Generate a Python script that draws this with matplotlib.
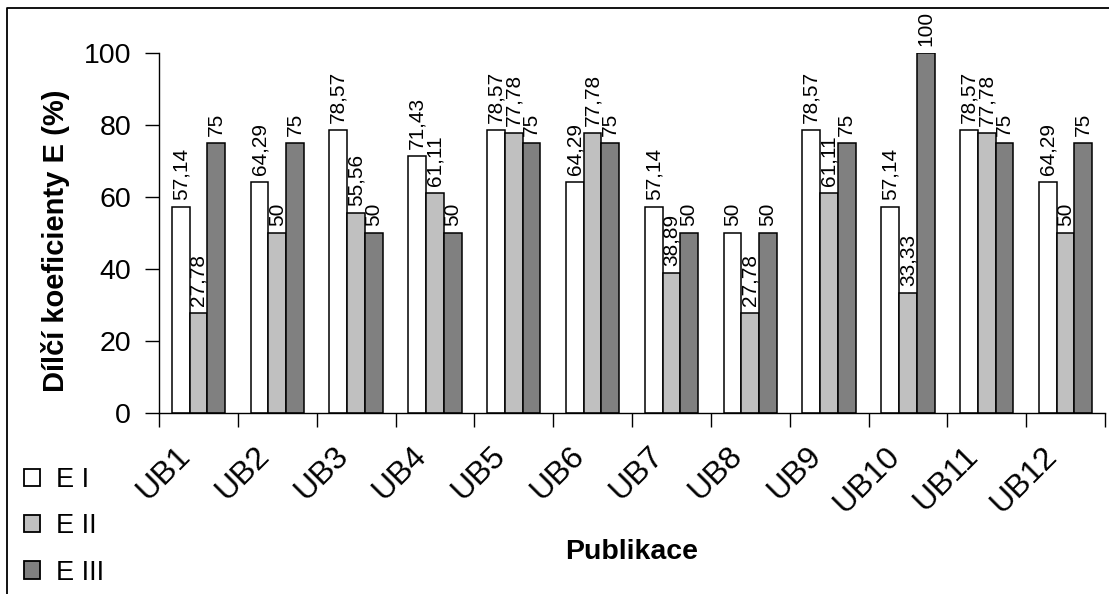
import numpy as np
import matplotlib
matplotlib.use('Agg')
import matplotlib.pyplot as plt
from matplotlib.lines import Line2D
from matplotlib.patches import Patch
from matplotlib.transforms import ScaledTranslation

plt.rcParams['font.family'] = ['Liberation Sans', 'DejaVu Sans']

publikace = ['UB1', 'UB2', 'UB3', 'UB4', 'UB5', 'UB6',
             'UB7', 'UB8', 'UB9', 'UB10', 'UB11', 'UB12']
e1 = [57.14, 64.29, 78.57, 71.43, 78.57, 64.29, 57.14, 50, 78.57, 57.14, 78.57, 64.29]
e2 = [27.78, 50, 55.56, 61.11, 77.78, 77.78, 38.89, 27.78, 61.11, 33.33, 77.78, 50]
e3 = [75, 75, 50, 50, 75, 75, 50, 50, 75, 100, 75, 75]
serie_nazvy = ['E I', 'E II', 'E III']
barvy = ['#FFFFFF', '#C0C0C0', '#808080']


def cz_format(v):
    s = ('%.2f' % v).rstrip('0').rstrip('.')
    return s.replace('.', ',')


fig = plt.figure(figsize=(11.09, 5.94), dpi=100)
ax = fig.add_axes([159 / 1109, 181 / 594, 946 / 1109, 360 / 594])

x = np.arange(len(publikace)) + 0.5
w = 0.225
for k, (vals, col) in enumerate(zip([e1, e2, e3], barvy)):
    bars = ax.bar(x + (k - 1) * w, vals, w, color=col, edgecolor='black',
                  linewidth=1.1, label=serie_nazvy[k], zorder=2)
    ax.bar_label(bars, labels=[cz_format(v) for v in vals], rotation=90,
                 padding=5, fontsize=15)

ax.set_xlim(0, len(publikace))
ax.set_ylim(0, 100)
ax.set_yticks([0, 20, 40, 60, 80, 100])
ax.tick_params(axis='y', labelsize=20.5, length=10, width=1, pad=10, direction='out')

# group boundaries carry the ticks, group centres carry the labels
ax.set_xticks(np.arange(len(publikace) + 1))
ax.set_xticklabels([])
ax.tick_params(axis='x', which='major', length=10, width=1, direction='out')
ax.set_xticks(x, minor=True)
ax.set_xticklabels(publikace, minor=True, rotation=45, ha='right', va='top',
                   fontsize=23)
ax.tick_params(axis='x', which='minor', length=0, pad=20)
shift = ScaledTranslation(-2 / 100, 0, fig.dpi_scale_trans)
for lab in ax.get_xticklabels(minor=True):
    lab.set_transform(lab.get_transform() + shift)

for s in ['top', 'right']:
    ax.spines[s].set_visible(False)
for s in ['left', 'bottom']:
    ax.spines[s].set_linewidth(1)

ax.set_ylabel('Dílčí koeficienty E (%)', fontsize=21, fontweight='bold', va='center')
ax.yaxis.set_label_coords(-0.109, 0.478)
ax.set_xlabel('Publikace', fontsize=20.5, fontweight='bold', va='center')
ax.xaxis.set_label_coords(0.5, -0.386)

handles = [Patch(facecolor=c, edgecolor='black', linewidth=1.3) for c in barvy]
ax.legend(handles, serie_nazvy, loc='upper left',
          bbox_to_anchor=(24 / 1109, 1 - 467 / 594), bbox_transform=fig.transFigure,
          frameon=False, fontsize=19.5, handlelength=0.6, handleheight=0.6,
          handletextpad=0.6, labelspacing=0.75, borderpad=0, borderaxespad=0)

# frame line along the top and left edge of the picture
fig.add_artist(Line2D([7 / 1109, 7 / 1109, 1], [0, 1 - 8 / 594, 1 - 8 / 594],
                      transform=fig.transFigure, color='black', linewidth=1.3))

fig.savefig('out.png', dpi=100)
